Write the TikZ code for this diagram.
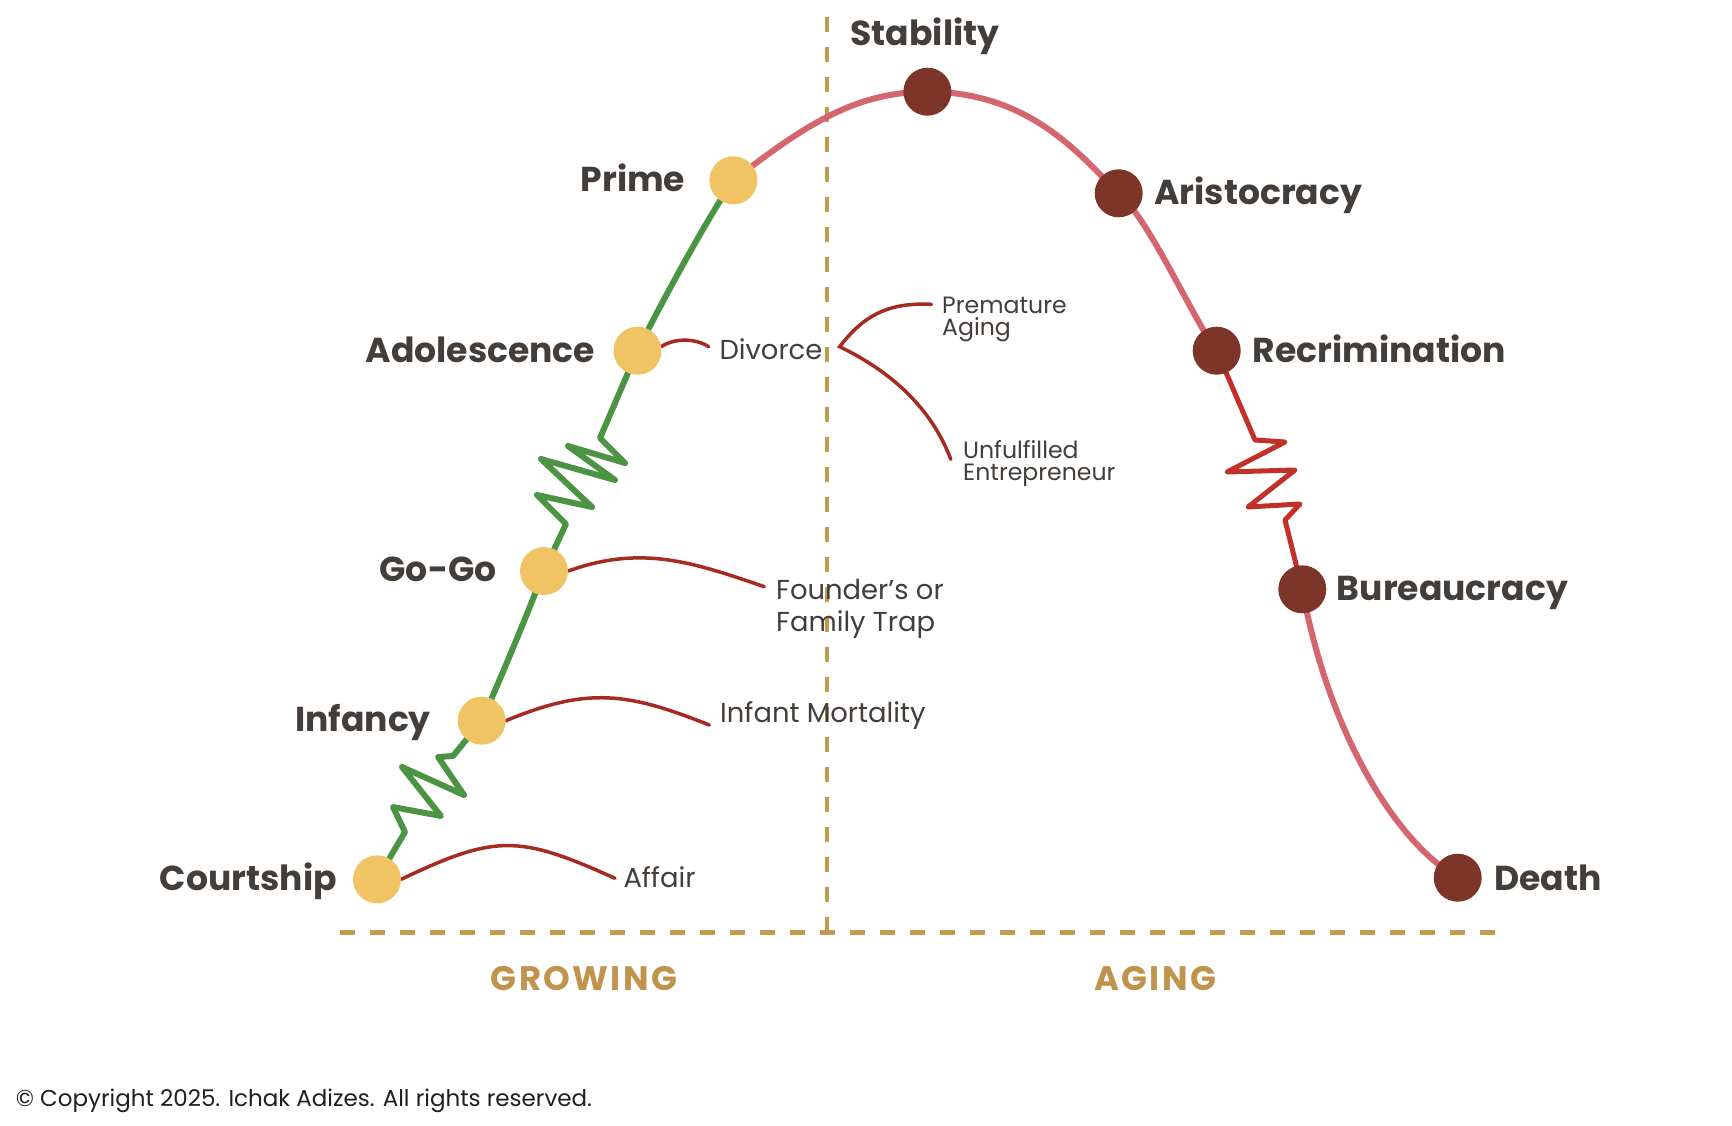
\documentclass[tikz,border=0pt]{standalone}
\usepackage{fontspec}
\setmainfont{Poppins}
\usetikzlibrary{backgrounds}
\definecolor{txt}{HTML}{433E3A}
\definecolor{grn}{HTML}{4B9444}
\definecolor{pnk}{HTML}{D4666F}
\definecolor{zred}{HTML}{C1312A}
\definecolor{cred}{HTML}{A52A22}
\definecolor{ydot}{HTML}{F0C465}
\definecolor{bdot}{HTML}{7D352A}
\definecolor{gold}{HTML}{C49A4F}
\definecolor{goldtxt}{HTML}{C0944C}
\definecolor{copytxt}{HTML}{1F1F1F}
\begin{document}
\begin{tikzpicture}[x=1pt,y=-1pt,
  ystage/.style={circle, fill=ydot, draw=none, minimum size=48pt, inner sep=0pt},
  bstage/.style={circle, fill=bdot, draw=none, minimum size=48pt, inner sep=0pt},
  big/.style={font=\fontsize{34.6}{40}\selectfont\bfseries, text=txt, inner sep=0pt},
  mid/.style={font=\fontsize{27.4}{32}\selectfont, text=txt, inner sep=0pt, align=left},
  sml/.style={font=\fontsize{23.6}{21.7}\selectfont, text=txt, inner sep=0pt, align=left},
  sect/.style={font=\fontsize{34}{40}\selectfont\bfseries\addfontfeature{LetterSpace=7}, text=goldtxt, inner sep=0pt},
  copyst/.style={font=\fontsize{23}{28}\selectfont, text=copytxt, inner sep=0pt},
  growline/.style={draw=grn, line width=6pt, line join=round, line cap=round},
  ageline/.style={draw=pnk, line width=6pt, line cap=round},
  zigred/.style={draw=zred, line width=5pt, line join=round, line cap=round},
  trap/.style={draw=cred, line width=3.5pt, line cap=round},
  axisline/.style={draw=gold, line width=4.5pt, dash pattern=on 15pt off 15pt}
]
\useasboundingbox (0,0) rectangle (1732,1126);

% stage dots
\node[ystage] (court) at (377,879.3) {};
\node[ystage] (infancy) at (481.7,720.7) {};
\node[ystage] (gogo) at (544,571) {};
\node[ystage] (adol) at (637.5,350.7) {};
\node[ystage] (prime) at (733.4,180.3) {};
\node[bstage] (stab) at (927.4,91.7) {};
\node[bstage] (aristo) at (1118.7,193.3) {};
\node[bstage] (recrim) at (1216.7,350.7) {};
\node[bstage] (bureau) at (1302.3,589.3) {};
\node[bstage] (death) at (1457.7,877.7) {};

% stage labels
\node[big, anchor=base] (lStab) at (925,45.7) {Stability};
\node[big, anchor=base east] (lPrime) at (685.5,192) {Prime};
\node[big, anchor=base east] (lAdol) at (595.4,362.4) {Adolescence};
\node[big, anchor=base east] (lGoGo) at (496.7,581.7) {Go-Go};
\node[big, anchor=base east] (lInf) at (431,731.7) {Infancy};
\node[big, anchor=base east] (lCourt) at (337,890.8) {Courtship};
\node[big, anchor=base west] (lAris) at (1154,204.8) {Aristocracy};
\node[big, anchor=base west] (lRec) at (1252.7,362.3) {Recrimination};
\node[big, anchor=base west] (lBur) at (1336.7,600) {Bureaucracy};
\node[big, anchor=base west] (lDeath) at (1494,890.7) {Death};

% trap labels
\node[mid, anchor=base west] (lAff) at (623.3,887.3) {Affair};
\node[mid, anchor=base west] (lInfM) at (720,722.7) {Infant Mortality};
\node[mid, anchor=base west] (lFound) at (776,631) {Founder’s or\\Family Trap};
\node[mid, anchor=base west] (lDiv) at (719.3,359.3) {Divorce};
\node[sml, anchor=base west] (lPrem) at (942,335) {Premature\\Aging};
\node[sml, anchor=base west] (lUnf) at (963,480) {Unfulfilled\\Entrepreneur};

% section labels
\node[sect, anchor=base] (lGrow) at (584,990) {GROWING};
\node[sect, anchor=base] (lAge) at (1155,990) {AGING};
\node[copyst, anchor=base west] (lCopy) at (15.6,1106) {© Copyright 2025. Ichak Adizes. All rights reserved.};

% free ends
\coordinate (vtop) at (827,17);
\coordinate (vbot) at (827,932.5);
\coordinate (hleft) at (340,932.5);
\coordinate (hright) at (1495,932.5);
\coordinate (affE) at (615,878.3);
\coordinate (infE) at (709.3,725);
\coordinate (fndE) at (764.3,586.7);
\coordinate (divE) at (708.7,346.7);
\coordinate (vtx) at (839.6,346.7);
\coordinate (premE) at (931.5,304.3);
\coordinate (unfE) at (950.8,459.3);

\begin{scope}[on background layer]
\fill[white] (0,0) rectangle (1732,1126);
% axes
\draw[axisline] (vtop) -- (vbot);
\draw[axisline] (hleft) -- (hright);
% growing curve
\draw[growline] (court.center) -- (405,832) -- (393,807) -- (441,816) -- (402,767) -- (464,795) -- (438,757) -- (453,756) -- (infancy.center);
\draw[growline] (infancy.center) .. controls (500,680) and (525,620) .. (gogo.center);
\draw[growline] (gogo.center) -- (566,524) -- (537,495) -- (592,507) -- (541,459) -- (615,480) -- (568,446) -- (625,463) -- (600,438) -- (adol.center);
\draw[growline] (adol.center) .. controls (657,311) and (706,220) .. (prime.center);
% aging curve
\draw[ageline] (prime.center) .. controls (805,125) and (855,92) .. (stab.center)
  .. controls (1030,92) and (1080,155) .. (aristo.center)
  .. controls (1149,219) and (1193,319) .. (recrim.center);
\draw[zigred] (recrim.center) -- (1255,440) -- (1285,442) -- (1227,472) -- (1295,470) -- (1248,507) -- (1300,504) -- (1285,520) -- (bureau.center);
\draw[ageline] (bureau.center) .. controls (1330,740) and (1400,845) .. (death.center);
% traps
\draw[trap] (court.east) .. controls (496,834) and (519,835) .. (affE);
\draw[trap] (infancy.east) .. controls (588,686.5) and (628,692.6) .. (infE);
\draw[trap] (gogo.east) .. controls (641,545) and (691,561.5) .. (fndE);
\draw[trap] (adol.10) .. controls (675,338) and (695,338) .. (divE);
\draw[trap] (premE) .. controls (885,302) and (862,318) .. (vtx) .. controls (890,371) and (931,407) .. (unfE);
\end{scope}
\end{tikzpicture}
\end{document}
